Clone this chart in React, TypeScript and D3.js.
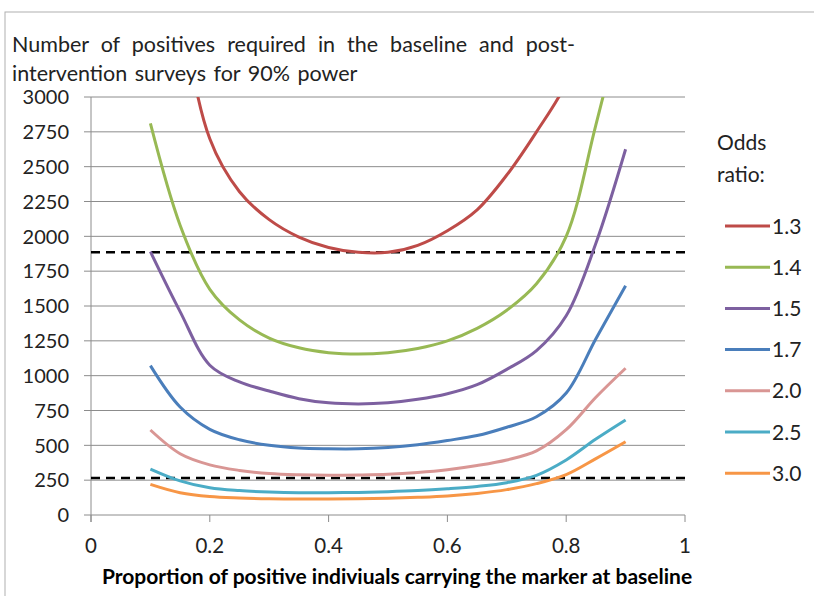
import * as d3 from 'd3';

// proportion carrying the marker at baseline
const props = [0.1, 0.15, 0.2, 0.25, 0.3, 0.35, 0.4, 0.45, 0.5, 0.55, 0.6, 0.65, 0.7, 0.75, 0.8, 0.85, 0.9];

// positives required, one array per odds ratio
const or13 = [5200, 3700, 2700, 2320, 2120, 1995, 1920, 1885, 1885, 1935, 2040, 2190, 2440, 2750, 3100, 3700, 4800];
const or14 = [2810, 2080, 1620, 1400, 1270, 1200, 1165, 1155, 1165, 1195, 1250, 1340, 1470, 1660, 2000, 2800, 3650];
const or15 = [1890, 1460, 1075, 955, 890, 835, 805, 797, 805, 830, 870, 935, 1045, 1180, 1430, 1950, 2625];
const or17 = [1072, 775, 615, 540, 500, 480, 475, 475, 485, 505, 535, 570, 630, 705, 875, 1265, 1645];
const or20 = [610, 440, 360, 320, 297, 288, 285, 287, 292, 305, 325, 355, 395, 460, 612, 845, 1053];
const or25 = [330, 245, 195, 175, 165, 160, 160, 162, 167, 175, 188, 205, 232, 285, 395, 545, 682];
const or30 = [220, 160, 132, 122, 117, 115, 115, 117, 120, 127, 137, 155, 182, 225, 290, 405, 526];

const seriesNames = ['1.3', '1.4', '1.5', '1.7', '2.0', '2.5', '3.0'];
const seriesValues = [or13, or14, or15, or17, or20, or25, or30];
const seriesColors = ['#BE4B48', '#98B954', '#7D60A0', '#4A7EBB', '#D99694', '#4BACC6', '#F79646'];

const refLines = [1885, 265];
const yTicks = [0, 250, 500, 750, 1000, 1250, 1500, 1750, 2000, 2250, 2500, 2750, 3000];
const xTicks = [0, 0.2, 0.4, 0.6, 0.8, 1];

const titleLines = ['Number of positives required in the baseline and post-', 'intervention surveys for 90% power'];
const titleSpacing = [6.5, 2];
const xTitle = 'Proportion of positive indiviuals carrying the marker at baseline';
const legendTitle = ['Odds', 'ratio:'];

const W = 814;
const H = 596;
const font = 'Lato, "Open Sans", sans-serif';
const ink = '#222';

export default function App() {
  const x = d3.scaleLinear().domain([0, 1]).range([91, 685]);
  const y = d3.scaleLinear().domain([0, 3000]).range([515, 97]);

  const line = d3
    .line<[number, number]>()
    .x(d => x(d[0]))
    .y(d => y(d[1]))
    .curve(d3.curveCatmullRom.alpha(0.5));

  return (
    <svg width={W} height={H} style={{ position: 'absolute', left: 0, top: 0, background: '#fff' }}>
      <defs>
        <clipPath id="plot">
          <rect x={x(0)} y={y(3000)} width={x(1) - x(0)} height={y(0) - y(3000)} />
        </clipPath>
      </defs>
      <rect x={5} y={12} width={W} height={H} fill="#fff" stroke="#b0b0b0" strokeWidth={1} />

      {/* title */}
      {titleLines.map((t, i) => (
        <text key={t} x={12} y={52 + i * 29} fontFamily={font} fontSize={21.5} wordSpacing={titleSpacing[i]} fill={ink}>
          {t}
        </text>
      ))}

      {/* gridlines and y axis */}
      {yTicks.map(v => (
        <g key={v}>
          <line x1={x(0) - 7} x2={x(1)} y1={y(v)} y2={y(v)} stroke="#8c8c8c" strokeWidth={1} />
          <text x={69} y={y(v)} dy="0.36em" textAnchor="end" fontFamily={font} fontSize={20} fill={ink}>
            {v}
          </text>
        </g>
      ))}
      <line x1={x(0)} x2={x(0)} y1={y(3000)} y2={y(0) + 7} stroke="#8c8c8c" strokeWidth={1} />
      {xTicks.map(v => (
        <g key={v}>
          <line x1={x(v)} x2={x(v)} y1={y(0)} y2={y(0) + 7} stroke="#8c8c8c" strokeWidth={1} />
          <text x={x(v)} y={553} textAnchor="middle" fontFamily={font} fontSize={20.5} fill={ink}>
            {v}
          </text>
        </g>
      ))}

      {/* reference lines */}
      {refLines.map(v => (
        <line
          key={v}
          x1={x(0)}
          x2={x(1)}
          y1={y(v)}
          y2={y(v)}
          stroke="#000"
          strokeWidth={2.5}
          strokeDasharray="9,6"
        />
      ))}

      {/* series */}
      <g clipPath="url(#plot)">
        {seriesValues.map((vals, i) => (
          <path
            key={seriesNames[i]}
            d={line(props.map((p, j) => [p, vals[j]] as [number, number])) || ''}
            fill="none"
            stroke={seriesColors[i]}
            strokeWidth={3}
            strokeLinejoin="round"
          />
        ))}
      </g>

      {/* x axis title */}
      <text x={397} y={584} textAnchor="middle" fontFamily={font} fontSize={21} fontWeight="bold" fill="#000">
        {xTitle}
      </text>

      {/* legend */}
      {legendTitle.map((t, i) => (
        <text key={t} x={717} y={150 + i * 32} fontFamily={font} fontSize={21} fill={ink}>
          {t}
        </text>
      ))}
      {seriesNames.map((n, i) => {
        const ly = 226 + i * 41.2;
        return (
          <g key={n}>
            <line x1={725} x2={770} y1={ly} y2={ly} stroke={seriesColors[i]} strokeWidth={3} />
            <text x={772} y={ly} dy="0.36em" fontFamily={font} fontSize={21} fill={ink}>
              {n}
            </text>
          </g>
        );
      })}
    </svg>
  );
}
